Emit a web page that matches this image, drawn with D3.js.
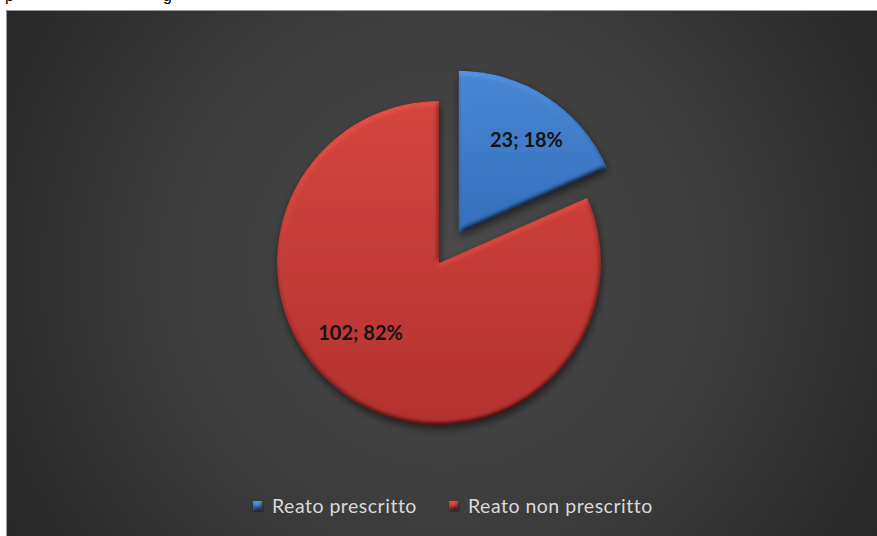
<!DOCTYPE html>
<html>
<head>
<meta charset="utf-8">
<script src="https://cdn.jsdelivr.net/npm/d3@7"></script>
<style>
  html, body { margin: 0; padding: 0; background: #ffffff; }
  svg { display: block; }
</style>
</head>
<body>
<script>
// Reati: prescritti vs non prescritti
const categories = ["Reato prescritto", "Reato non prescritto"];
const values = [23, 102];
const percentLabels = ["18%", "82%"];
const sliceColors = [
  { top: "#4a88d6", bottom: "#356fbb" },
  { top: "#d5463f", bottom: "#b5322f" }
];

const W = 877, H = 536;
const svg = d3.select("body").append("svg").attr("width", W).attr("height", H);
const defs = svg.append("defs");

// Dark radial backdrop of the chart panel
const bg = defs.append("radialGradient").attr("id", "bgGrad")
  .attr("gradientUnits", "userSpaceOnUse")
  .attr("cx", 445).attr("cy", 270).attr("r", 520);
bg.append("stop").attr("offset", 0).attr("stop-color", "#4c4c4c");
bg.append("stop").attr("offset", 0.55).attr("stop-color", "#3b3b3b");
bg.append("stop").attr("offset", 1).attr("stop-color", "#262626");

sliceColors.forEach((c, i) => {
  const g = defs.append("linearGradient").attr("id", "slice" + i)
    .attr("x1", 0).attr("y1", 0).attr("x2", 0).attr("y2", 1);
  g.append("stop").attr("offset", 0).attr("stop-color", c.top);
  g.append("stop").attr("offset", 1).attr("stop-color", c.bottom);
});

// Bevel: diffuse lighting on the blurred alpha, multiplied back onto the fill
const bevel = defs.append("filter").attr("id", "bevel")
  .attr("x", "-15%").attr("y", "-15%").attr("width", "130%").attr("height", "130%");
bevel.append("feGaussianBlur").attr("in", "SourceAlpha").attr("stdDeviation", 2.5).attr("result", "blur");
const light = bevel.append("feDiffuseLighting").attr("in", "blur")
  .attr("surfaceScale", 3.5).attr("diffuseConstant", 1).attr("lighting-color", "#ffffff")
  .attr("result", "lit");
light.append("feDistantLight").attr("azimuth", 250).attr("elevation", 55);
bevel.append("feComposite").attr("in", "SourceGraphic").attr("in2", "lit")
  .attr("operator", "arithmetic").attr("k1", 1.2).attr("k2", 0).attr("k3", 0).attr("k4", 0)
  .attr("result", "shaded");
bevel.append("feComposite").attr("in", "shaded").attr("in2", "SourceAlpha")
  .attr("operator", "in").attr("result", "body");
bevel.append("feGaussianBlur").attr("in", "SourceAlpha").attr("stdDeviation", 4).attr("result", "sblur");
bevel.append("feOffset").attr("in", "sblur").attr("dx", 1).attr("dy", 4).attr("result", "soff");
bevel.append("feComponentTransfer").attr("in", "soff").attr("result", "shadow")
  .append("feFuncA").attr("type", "linear").attr("slope", 0.55);
const merge = bevel.append("feMerge");
merge.append("feMergeNode").attr("in", "shadow");
merge.append("feMergeNode").attr("in", "body");

// Page strip above the chart panel (line of text cut by the panel)
const pageText = svg.append("g")
  .style("font-family", "'Liberation Sans', Arial, sans-serif")
  .style("font-size", "16px").attr("fill", "#000");
pageText.append("text").attr("x", 5).attr("y", 1).text("p");
pageText.append("text").attr("x", 163).attr("y", 1).text("g");

// Chart panel
svg.append("rect").attr("x", 6).attr("y", 10).attr("width", W - 6).attr("height", H - 10)
  .attr("fill", "url(#bgGrad)");
svg.append("path").attr("d", `M6.5,${H} V10.5 H${W}`)
  .attr("fill", "none").attr("stroke", "#9a9a9a").attr("stroke-width", 1);

// Pie layout
const cx = 439, cy = 263, R = 162;
const explode = [36, 0];
const labelAngleShift = [3, 15];          // degrees
const labelRadius = [0.71, 0.65];          // fraction of R

const pie = d3.pie().sort(null).value(d => d)(values);
const arc = d3.arc().innerRadius(0).outerRadius(R);

const pieG = svg.append("g").attr("transform", `translate(${cx},${cy})`);

const slices = pieG.selectAll("g.slice").data(pie).join("g")
  .attr("class", "slice")
  .attr("transform", (d, i) => {
    const a = (d.startAngle + d.endAngle) / 2;
    return `translate(${explode[i] * Math.sin(a)},${-explode[i] * Math.cos(a)})`;
  });

slices.append("path")
  .attr("d", arc)
  .attr("fill", (d, i) => `url(#slice${i})`)
  .attr("filter", "url(#bevel)");

slices.append("text")
  .attr("transform", (d, i) => {
    const a = (d.startAngle + d.endAngle) / 2 + labelAngleShift[i] * Math.PI / 180;
    const r = labelRadius[i] * R;
    return `translate(${r * Math.sin(a)},${-r * Math.cos(a)})`;
  })
  .attr("text-anchor", "middle")
  .attr("dy", "0.35em")
  .style("font-family", "Lato, 'Open Sans', sans-serif")
  .style("font-weight", "700")
  .style("font-size", "20px")
  .attr("fill", "#141414")
  .text((d, i) => `${values[i]}; ${percentLabels[i]}`);

// Legend
const legend = svg.append("g").attr("transform", "translate(0,506)");
const legendX = [253, 449];
const items = legend.selectAll("g.item").data(categories).join("g")
  .attr("class", "item")
  .attr("transform", (d, i) => `translate(${legendX[i]},0)`);
items.append("rect")
  .attr("x", 0).attr("y", -5).attr("width", 9).attr("height", 9)
  .attr("fill", (d, i) => `url(#slice${i})`)
  .attr("filter", "url(#bevel)");
items.append("text")
  .attr("x", 19).attr("y", 0).attr("dy", "0.35em")
  .style("font-family", "Lato, 'Open Sans', sans-serif")
  .style("font-size", "19.5px")
  .style("letter-spacing", "0.5px")
  .attr("fill", "#d9d9d9")
  .text(d => d);
</script>
</body>
</html>
